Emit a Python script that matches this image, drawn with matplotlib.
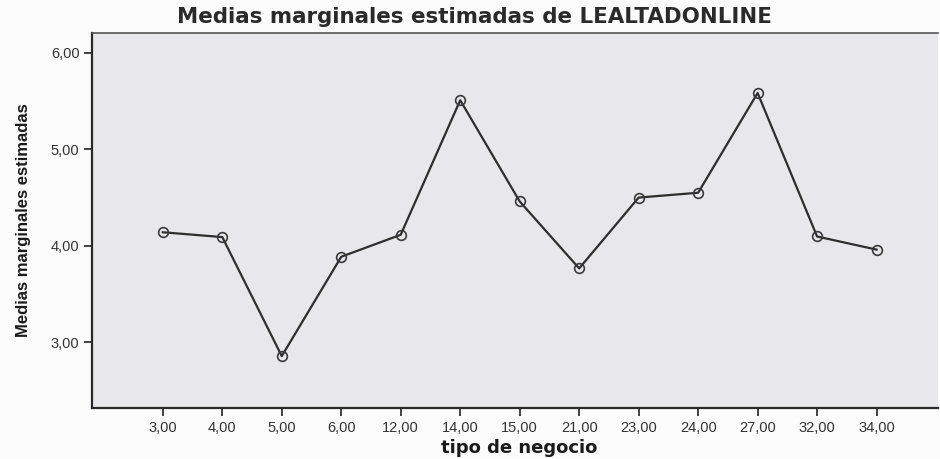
import matplotlib
matplotlib.use("Agg")
import matplotlib.pyplot as plt
from matplotlib import font_manager

categories = ["3,00", "4,00", "5,00", "6,00", "12,00", "14,00", "15,00",
              "21,00", "23,00", "24,00", "27,00", "32,00", "34,00"]
medias = [4.14, 4.09, 2.855, 3.886, 4.114, 5.51, 4.46,
          3.765, 4.50, 4.55, 5.585, 4.096, 3.96]
yticks = [3.0, 4.0, 5.0, 6.0]
ytick_labels = ["3,00", "4,00", "5,00", "6,00"]

names = {f.name for f in font_manager.fontManager.ttflist}
narrow = "Liberation Sans Narrow" if "Liberation Sans Narrow" in names else "Liberation Sans"

fig = plt.figure(figsize=(9.4, 4.59), dpi=100)
fig.patch.set_facecolor("#fcfcfc")
ax = fig.add_axes([0.0979, 0.111, 0.8998, 0.817])
ax.set_facecolor("#e8e8ec")

x = list(range(len(categories)))
ax.plot(x, medias, color="#2e2e2e", lw=1.6, marker="o", ms=7,
        mfc="none", mec="#3a3a3a", mew=1.2)

ax.set_xlim(-1.19, 13.03)
ax.set_ylim(2.316, 6.207)
ax.set_xticks(x)
ax.set_xticklabels(categories, fontsize=10.5, family="Liberation Sans", color="#333333")
ax.set_yticks(yticks)
ax.set_yticklabels(ytick_labels, fontsize=10.5, family="Liberation Sans", color="#333333")
ax.tick_params(direction="out", length=6, width=1.3, color="#333333", pad=3)

for s in ["left", "bottom"]:
    ax.spines[s].set_color("#2a2a2a")
    ax.spines[s].set_linewidth(1.6)
ax.spines["top"].set_color("#555555")
ax.spines["top"].set_linewidth(1.2)
ax.spines["right"].set_visible(False)

fig.text(474 / 940, 1 - 17 / 459, "Medias marginales estimadas de LEALTADONLINE",
         ha="center", va="center", fontsize=15.4, fontweight="bold",
         family="DejaVu Sans", color="#2a2a2a")
fig.text(519 / 940, 1 - 448 / 459, "tipo de negocio",
         ha="center", va="center", fontsize=13, fontweight="bold",
         family="DejaVu Sans", color="#1a1a1a")
ax.set_ylabel("Medias marginales estimadas", fontsize=12, fontweight="bold",
              family=narrow, color="#1a1a1a", labelpad=14)

fig.savefig("out.png", dpi=100, facecolor=fig.get_facecolor())
